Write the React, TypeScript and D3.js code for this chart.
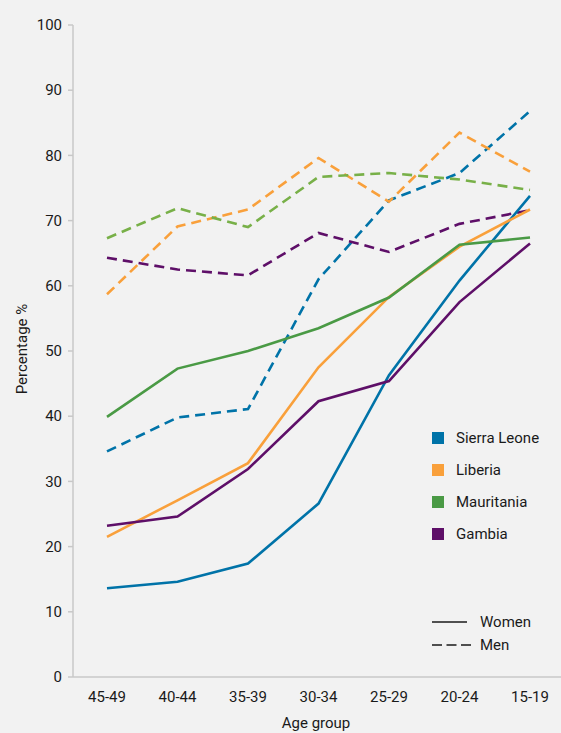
import React from "react";
import * as d3 from "d3";

const ageGroups = ["45-49", "40-44", "35-39", "30-34", "25-29", "20-24", "15-19"];
const countries = ["Sierra Leone", "Liberia", "Mauritania", "Gambia"];
const countryColors = ["#0073A8", "#F9A03B", "#4A9A45", "#5E0F68"];
const menColors = ["#0073A8", "#F9A03B", "#78B048", "#5E0F68"];

const sierraLeoneWomen = [13.6, 14.6, 17.4, 26.6, 46.3, 60.8, 73.8];
const sierraLeoneMen = [34.6, 39.8, 41.1, 61.0, 73.1, 77.3, 86.8];
const liberiaWomen = [21.5, 27.1, 32.8, 47.5, 58.3, 66.0, 71.7];
const liberiaMen = [58.7, 69.1, 71.7, 79.6, 72.9, 83.5, 77.5];
const mauritaniaWomen = [39.9, 47.3, 50.0, 53.5, 58.2, 66.3, 67.4];
const mauritaniaMen = [67.3, 71.9, 69.0, 76.7, 77.3, 76.3, 74.7];
const gambiaWomen = [23.2, 24.6, 31.9, 42.3, 45.4, 57.5, 66.5];
const gambiaMen = [64.3, 62.5, 61.6, 68.1, 65.2, 69.5, 71.6];

const womenSeries = [sierraLeoneWomen, liberiaWomen, mauritaniaWomen, gambiaWomen];
const menSeries = [sierraLeoneMen, liberiaMen, mauritaniaMen, gambiaMen];
const yTicks = [0, 10, 20, 30, 40, 50, 60, 70, 80, 90, 100];

const W = 561;
const H = 733;
const FONT = "Roboto, 'DejaVu Sans', sans-serif";
const TEXT = "#1a1a1a";
const AXIS = "#c8c8c8";

export default function App() {
  const x = d3.scalePoint<string>().domain(ageGroups).range([107, 530]);
  const y = d3.scaleLinear().domain([0, 100]).range([677, 25]);
  const line = d3
    .line<number>()
    .x((_, i) => x(ageGroups[i]) as number)
    .y((d) => y(d));

  const legendY = d3.scalePoint<string>().domain(countries).range([438, 534]);

  return (
    <svg
      width={W}
      height={H}
      style={{ position: "absolute", left: 0, top: 0, background: "#F2F2F2" }}
    >
      <rect x={0} y={0} width={W} height={H} fill="#F2F2F2" />
      {/* axes */}
      <line x1={73} x2={73} y1={y(100)} y2={y(0)} stroke={AXIS} strokeWidth={1.5} />
      <line x1={73} x2={W} y1={y(0)} y2={y(0)} stroke={AXIS} strokeWidth={1.5} />
      {yTicks.map((t) => (
        <g key={t}>
          <line x1={68} x2={73} y1={y(t)} y2={y(t)} stroke={AXIS} strokeWidth={1.5} />
          <text
            x={62}
            y={y(t)}
            dy="0.35em"
            textAnchor="end"
            fontFamily={FONT}
            fontSize={15}
            fill={TEXT}
          >
            {t}
          </text>
        </g>
      ))}
      {ageGroups.map((g) => (
        <text
          key={g}
          x={x(g)}
          y={702}
          textAnchor="middle"
          fontFamily={FONT}
          fontSize={15}
          fill={TEXT}
        >
          {g}
        </text>
      ))}
      <text x={316} y={728} textAnchor="middle" fontFamily={FONT} fontSize={15} fill={TEXT}>
        Age group
      </text>
      <text
        transform="translate(27,349) rotate(-90)"
        textAnchor="middle"
        fontFamily={FONT}
        fontSize={15}
        fill={TEXT}
      >
        Percentage %
      </text>

      {/* men (dashed) */}
      {menSeries.map((s, i) => (
        <path
          key={"m" + i}
          d={line(s) as string}
          fill="none"
          stroke={menColors[i]}
          strokeWidth={2.6}
          strokeDasharray="10,6"
        />
      ))}
      {/* women (solid) */}
      {womenSeries.map((s, i) => (
        <path
          key={"w" + i}
          d={line(s) as string}
          fill="none"
          stroke={countryColors[i]}
          strokeWidth={2.6}
        />
      ))}

      {/* legend */}
      {countries.map((c, i) => (
        <g key={c}>
          <rect
            x={432}
            y={(legendY(c) as number) - 6}
            width={12}
            height={12}
            fill={countryColors[i]}
          />
          <text
            x={456}
            y={legendY(c) as number}
            dy="0.35em"
            fontFamily={FONT}
            fontSize={15}
            fill={TEXT}
          >
            {c}
          </text>
        </g>
      ))}
      <line x1={432} x2={467} y1={622} y2={622} stroke={TEXT} strokeWidth={1.5} />
      <text x={480} y={622} dy="0.35em" fontFamily={FONT} fontSize={15} fill={TEXT}>
        Women
      </text>
      <line
        x1={432}
        x2={471}
        y1={645}
        y2={645}
        stroke={TEXT}
        strokeWidth={1.5}
        strokeDasharray="10,4.5"
      />
      <text x={480} y={645} dy="0.35em" fontFamily={FONT} fontSize={15} fill={TEXT}>
        Men
      </text>
    </svg>
  );
}
